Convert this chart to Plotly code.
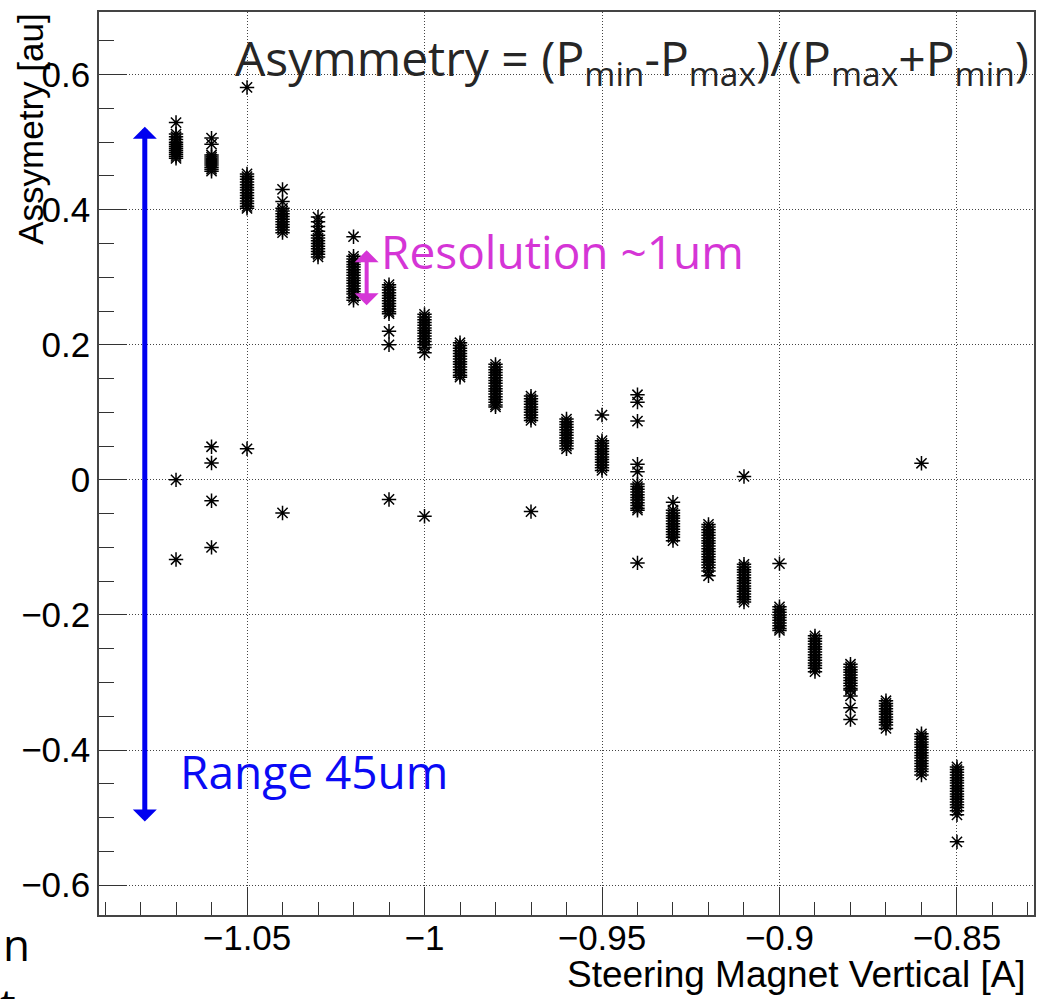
import plotly.graph_objects as go

# Steering magnet current settings [A]
currents = [-1.07, -1.06, -1.05, -1.04, -1.03, -1.02, -1.01, -1.00, -0.99, -0.98, -0.97, -0.96,
            -0.95, -0.94, -0.93, -0.92, -0.91, -0.90, -0.89, -0.88, -0.87, -0.86, -0.85]

asym_m107 = [0.529, 0.512, 0.508, 0.504, 0.500, 0.497, 0.494, 0.491, 0.488, 0.485, 0.482, 0.479, 0.476, 0.000, -0.118]
asym_m106 = [0.506, 0.497, 0.481, 0.478, 0.475, 0.472, 0.469, 0.466, 0.463, 0.460, 0.457, 0.049, 0.025, -0.031, -0.100]
asym_m105 = [0.581, 0.453, 0.449, 0.445, 0.441, 0.437, 0.433, 0.429, 0.425, 0.421, 0.417, 0.413, 0.409, 0.405, 0.402, 0.046]
asym_m104 = [0.430, 0.412, 0.402, 0.398, 0.394, 0.390, 0.386, 0.382, 0.378, 0.374, 0.370, 0.366, -0.049]
asym_m103 = [0.389, 0.382, 0.375, 0.368, 0.362, 0.358, 0.354, 0.350, 0.346, 0.342, 0.338, 0.334, 0.330]
asym_m102 = [0.360, 0.331, 0.327, 0.323, 0.319, 0.315, 0.311, 0.307, 0.303, 0.299, 0.295, 0.291, 0.287,
             0.283, 0.279, 0.275, 0.270, 0.266]
asym_m101 = [0.289, 0.285, 0.281, 0.277, 0.273, 0.269, 0.265, 0.261, 0.257, 0.253, 0.249, 0.246, 0.220, 0.200, -0.029]
asym_m100 = [0.245, 0.241, 0.237, 0.233, 0.229, 0.225, 0.221, 0.217, 0.213, 0.209, 0.205, 0.200, 0.196, 0.188, -0.054]
asym_m099 = [0.203, 0.199, 0.195, 0.191, 0.187, 0.183, 0.179, 0.175, 0.171, 0.167, 0.163, 0.159, 0.155, 0.152]
asym_m098 = [0.171, 0.167, 0.163, 0.159, 0.155, 0.151, 0.147, 0.143, 0.139, 0.135, 0.131, 0.127, 0.123,
             0.119, 0.115, 0.111, 0.108]
asym_m097 = [0.124, 0.120, 0.116, 0.112, 0.108, 0.104, 0.100, 0.096, 0.092, 0.088, -0.047]
asym_m096 = [0.090, 0.086, 0.082, 0.078, 0.074, 0.070, 0.066, 0.062, 0.058, 0.054, 0.050, 0.046]
asym_m095 = [0.096, 0.058, 0.054, 0.050, 0.046, 0.042, 0.038, 0.034, 0.030, 0.026, 0.022, 0.018, 0.014]
asym_m094 = [0.126, 0.115, 0.087, 0.023, 0.012, -0.006, -0.010, -0.014, -0.018, -0.022, -0.026, -0.030,
             -0.034, -0.038, -0.042, -0.045, -0.123]
asym_m093 = [-0.033, -0.045, -0.049, -0.053, -0.057, -0.061, -0.065, -0.069, -0.073, -0.077, -0.081, -0.085, -0.090]
asym_m092 = [-0.066, -0.070, -0.074, -0.078, -0.082, -0.086, -0.090, -0.094, -0.098, -0.102, -0.106, -0.110,
             -0.114, -0.118, -0.122, -0.126, -0.130, -0.135, -0.142]
asym_m091 = [0.005, -0.125, -0.129, -0.133, -0.137, -0.141, -0.145, -0.149, -0.153, -0.157, -0.161, -0.165,
             -0.169, -0.173, -0.177, -0.181]
asym_m090 = [-0.124, -0.188, -0.192, -0.196, -0.200, -0.204, -0.208, -0.212, -0.216, -0.220, -0.223]
asym_m089 = [-0.231, -0.235, -0.239, -0.243, -0.247, -0.251, -0.255, -0.259, -0.263, -0.267, -0.271, -0.275,
             -0.279, -0.284]
asym_m088 = [-0.273, -0.277, -0.281, -0.285, -0.289, -0.293, -0.297, -0.301, -0.305, -0.309, -0.311, -0.320,
             -0.3375, -0.355]
asym_m087 = [-0.327, -0.331, -0.335, -0.339, -0.343, -0.347, -0.351, -0.355, -0.359, -0.363, -0.368]
asym_m086 = [0.0245, -0.376, -0.380, -0.384, -0.388, -0.392, -0.396, -0.400, -0.404, -0.408, -0.412, -0.416,
             -0.420, -0.424, -0.428, -0.432, -0.437]
asym_m085 = [-0.425, -0.429, -0.433, -0.437, -0.441, -0.445, -0.449, -0.453, -0.457, -0.461, -0.465, -0.469,
             -0.473, -0.477, -0.481, -0.485, -0.490, -0.496, -0.536]

asym_columns = [asym_m107, asym_m106, asym_m105, asym_m104, asym_m103, asym_m102, asym_m101, asym_m100,
                asym_m099, asym_m098, asym_m097, asym_m096, asym_m095, asym_m094, asym_m093, asym_m092,
                asym_m091, asym_m090, asym_m089, asym_m088, asym_m087, asym_m086, asym_m085]

# Annotation arrows (data coordinates)
range_arrow_x = -1.0788
range_arrow_y = [0.5227, -0.508]
res_arrow_x = -1.0163
res_arrow_y = [0.340, 0.2563]

xs, ys = [], []
for c, vals in zip(currents, asym_columns):
    for v in vals:
        xs.append(c)
        ys.append(v)

fig = go.Figure()
fig.add_trace(go.Scatter(
    x=xs, y=ys, mode="markers",
    marker=dict(symbol="asterisk-open", size=12, color="black",
                line=dict(color="black", width=1.5)),
    showlegend=False, hoverinfo="skip",
))

axis_font = dict(family="Liberation Sans, Arial, sans-serif", size=35, color="black")
slide_font = "Open Sans, Noto Sans, sans-serif"

fig.update_layout(
    width=1047, height=999, autosize=False,
    margin=dict(l=99, r=13, t=10, b=84),
    paper_bgcolor="white", plot_bgcolor="white",
    xaxis=dict(
        range=[-1.0917, -0.8283], tickmode="linear", tick0=-1.05, dtick=0.05,
        ticks="inside", ticklen=28, tickwidth=1.3, tickcolor="#333",
        showline=True, linecolor="#444", linewidth=1.5, mirror=True,
        showgrid=True, gridcolor="#444", griddash="1px,2px", gridwidth=1,
        zeroline=False, tickfont=axis_font, ticklabelstandoff=-9,
        minor=dict(ticks="inside", ticklen=13, dtick=0.01, tick0=-1.05, tickcolor="#333", tickwidth=1.3, showgrid=False),
    ),
    yaxis=dict(
        range=[-0.6443, 0.6927], tickmode="linear", tick0=0, dtick=0.2,
        ticks="inside", ticklen=28, tickwidth=1.3, tickcolor="#333",
        showline=True, linecolor="#444", linewidth=1.5, mirror=True,
        showgrid=True, gridcolor="#444", griddash="1px,2px", gridwidth=1,
        zeroline=False, tickfont=axis_font,
        minor=dict(ticks="inside", ticklen=15, dtick=0.05, tick0=0, tickcolor="#333", tickwidth=1.3, showgrid=False),
    ),
)

annotations = [
    # axis titles
    dict(text="Steering Magnet Vertical [A]", xref="paper", yref="paper", x=0.9936, y=-0.0663,
         xanchor="right", yanchor="middle", showarrow=False,
         font=dict(family="Liberation Sans, Arial, sans-serif", size=37, color="black")),
    dict(text="Assymetry [au]", xref="paper", yref="paper", x=-0.0727, y=0.8696, textangle=-90,
         xanchor="center", yanchor="middle", showarrow=False,
         font=dict(family="Liberation Sans, Arial, sans-serif", size=35, color="black")),
    # overlay texts
    dict(text="Asymmetry = (P<sub>min</sub>-P<sub>max</sub>)/(P<sub>max</sub>+P<sub>min</sub>)",
         xref="paper", yref="paper", x=(233 - 99) / 935, y=(915 - 59) / 905,
         xanchor="left", yanchor="middle", showarrow=False,
         font=dict(family=slide_font, size=48, color="#262626")),
    dict(text="Resolution ~1um", xref="paper", yref="paper", x=(379 - 99) / 935, y=(915 - 250) / 905,
         xanchor="left", yanchor="middle", showarrow=False,
         font=dict(family=slide_font, size=46, color="#d535d6")),
    dict(text="Range 45um", xref="paper", yref="paper", x=(178 - 99) / 935, y=(915 - 771) / 905,
         xanchor="left", yanchor="middle", showarrow=False,
         font=dict(family=slide_font, size=46, color="#0a0af5")),
    dict(text="n", xref="paper", yref="paper", x=(1 - 99) / 935, y=(915 - 944) / 905,
         xanchor="left", yanchor="middle", showarrow=False,
         font=dict(family=slide_font, size=44, color="black")),
    dict(text="t", xref="paper", yref="paper", x=(-2 - 99) / 935, y=(915 - 1004) / 905,
         xanchor="left", yanchor="middle", showarrow=False,
         font=dict(family=slide_font, size=44, color="black")),
    # arrows
    dict(text="", x=range_arrow_x, y=range_arrow_y[0], ax=range_arrow_x, ay=range_arrow_y[1],
         xref="x", yref="y", axref="x", ayref="y", showarrow=True,
         arrowhead=1, startarrowhead=1, arrowside="end+start", arrowsize=0.8, startarrowsize=0.8,
         arrowwidth=5, arrowcolor="#0000f0", standoff=0, startstandoff=0),
    dict(text="", x=res_arrow_x, y=res_arrow_y[0], ax=res_arrow_x, ay=res_arrow_y[1],
         xref="x", yref="y", axref="x", ayref="y", showarrow=True,
         arrowhead=1, startarrowhead=1, arrowside="end+start", arrowsize=1.0, startarrowsize=1.0,
         arrowwidth=4, arrowcolor="#d535d6", standoff=0, startstandoff=0),
]
fig.update_layout(annotations=annotations)

fig.write_html("out.html", config={"displayModeBar": False},
               post_script="document.body.style.margin='0px';document.body.style.overflow='hidden';")
